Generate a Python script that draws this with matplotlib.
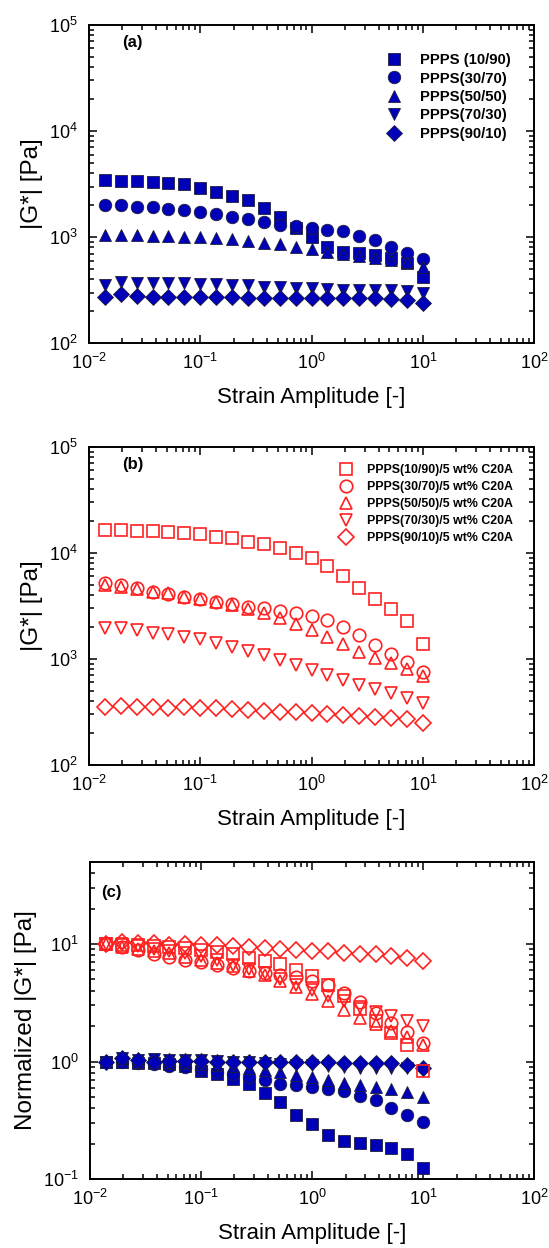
import numpy as np
import matplotlib
matplotlib.use('Agg')
import matplotlib.pyplot as plt

plt.rcParams['font.family'] = ['Liberation Sans', 'DejaVu Sans']
plt.rcParams['mathtext.fontset'] = 'custom'
plt.rcParams['mathtext.rm'] = 'Liberation Sans'

# strain amplitude [-]
strain = [0.0139, 0.0193, 0.0268, 0.0373, 0.0518, 0.0720, 0.100, 0.139, 0.193, 0.268,
          0.373, 0.518, 0.720, 1.00, 1.39, 1.93, 2.68, 3.73, 5.18, 7.20, 10.0]

# (a) neat blends, |G*| [Pa]
g_10_90 = [3460, 3410, 3390, 3340, 3270, 3170, 2890, 2690, 2450, 2240,
           1870, 1560, 1210, 1010, 814, 731, 705, 680, 632, 568, 425]
g_30_70 = [2010, 2010, 1940, 1910, 1850, 1810, 1720, 1640, 1560, 1480,
           1400, 1300, 1280, 1210, 1170, 1130, 1030, 941, 803, 705, 619]
g_50_50 = [1050, 1050, 1050, 1035, 1027, 1011, 997, 977, 955, 928,
           889, 857, 814, 769, 731, 695, 665, 642, 610, 579, 528]
g_70_30 = [355, 381, 368, 370, 368, 368, 363, 359, 355, 350,
           342, 337, 330, 330, 323, 318, 314, 314, 314, 311, 300]
g_90_10 = [272, 292, 279, 272, 275, 275, 275, 272, 272, 269,
           269, 269, 269, 269, 269, 265, 265, 264, 262, 256, 241]

# (b) blends with 5 wt% C20A, |G*| [Pa]
c_10_90 = [16600, 16400, 16200, 16000, 15800, 15500, 14900, 14200, 13700, 12700,
           12000, 11200, 10000, 8860, 7510, 6040, 4620, 3670, 2930, 2280, 1370]
c_30_70 = [5230, 4970, 4630, 4300, 4060, 3860, 3670, 3460, 3290, 3100,
           2990, 2830, 2730, 2530, 2330, 2010, 1680, 1350, 1110, 929, 758]
c_50_50 = [4970, 4730, 4530, 4300, 4150, 3860, 3670, 3460, 3220, 2930,
           2690, 2410, 2130, 1870, 1620, 1370, 1170, 1030, 909, 798, 690]
c_70_30 = [1940, 1940, 1870, 1770, 1700, 1620, 1530, 1420, 1300, 1200,
           1090, 977, 877, 786, 705, 632, 568, 517, 473, 431, 387]
c_90_10 = [350, 362, 355, 355, 342, 350, 342, 342, 337, 330,
           325, 318, 314, 307, 303, 296, 290, 286, 275, 269, 250]

blends = ['PPPS (10/90)', 'PPPS(30/70)', 'PPPS(50/50)', 'PPPS(70/30)', 'PPPS(90/10)']
clay_labels = ['PPPS(10/90)/5 wt% C20A', 'PPPS(30/70)/5 wt% C20A', 'PPPS(50/50)/5 wt% C20A',
               'PPPS(70/30)/5 wt% C20A', 'PPPS(90/10)/5 wt% C20A']
markers = ['s', 'o', '^', 'v', 'D']
neat = [g_10_90, g_30_70, g_50_50, g_70_30, g_90_10]
clay = [c_10_90, c_30_70, c_50_50, c_70_30, c_90_10]

BLUE = '#0000b8'
RED = '#ff2020'
msizes = {'s': 8, 'o': 9, '^': 9, 'v': 9, 'D': 8}


def style_axes(ax, ylim):
    ax.set_xscale('log')
    ax.set_yscale('log')
    ax.set_xlim(1e-2, 1e2)
    ax.set_ylim(*ylim)
    ax.tick_params(which='both', direction='in', top=True, right=True, labelsize=13, width=1.1)
    ax.tick_params(which='major', length=6)
    ax.tick_params(which='minor', length=3.5)
    ax.tick_params(axis='y', pad=8)
    ax.tick_params(axis='x', pad=7)
    for s in ax.spines.values():
        s.set_linewidth(1.4)
    ax.set_xlabel('Strain Amplitude [-]', fontsize=16, labelpad=10)


def plot_neat(ax, data, labels=True):
    for y, m, lab in zip(data, markers, blends):
        ax.plot(strain, y, ls='none', marker=m, ms=msizes[m], mfc=BLUE, mec='#20203a',
                mew=0.6, label=lab if labels else None)


def plot_clay(ax, data, labels=True):
    for y, m, lab in zip(data, markers, clay_labels):
        ax.plot(strain, y, ls='none', marker=m, ms=msizes[m], mfc='none', mec=RED,
                mew=1.2, label=lab if labels else None)


fig = plt.figure(figsize=(5.49, 12.48), dpi=100)
axa = fig.add_axes([0.162, 0.725, 0.811, 0.255])
axb = fig.add_axes([0.162, 0.387, 0.811, 0.255])
axc = fig.add_axes([0.164, 0.0553, 0.809, 0.254])

# (a)
plot_neat(axa, neat)
style_axes(axa, (1e2, 1e5))
axa.set_ylabel('|G*| [Pa]', fontsize=17.5, labelpad=4)
axa.text(0.075, 0.945, '(a)', transform=axa.transAxes, fontsize=12, fontweight='bold', va='center')
axa.legend(loc='upper left', bbox_to_anchor=(0.643, 0.935), frameon=False, borderpad=0,
           handlelength=1.5, handletextpad=1.0, labelspacing=0.3, numpoints=1,
           prop={'weight': 'bold', 'size': 10.7})

# (b)
plot_clay(axb, clay)
style_axes(axb, (1e2, 1e5))
axb.set_ylabel('|G*| [Pa]', fontsize=17.5, labelpad=4)
axb.text(0.075, 0.945, '(b)', transform=axb.transAxes, fontsize=12, fontweight='bold', va='center')
axb.legend(loc='upper left', bbox_to_anchor=(0.543, 0.965), frameon=False, borderpad=0,
           handlelength=1.5, handletextpad=0.95, labelspacing=0.4, numpoints=1,
           prop={'weight': 'bold', 'size': 8.9})

# (c) normalized by first point (clay samples shifted by x10)
norm_neat = [np.array(y) / y[0] for y in neat]
norm_clay = [10 * np.array(y) / y[0] for y in clay]
plot_neat(axc, norm_neat, labels=False)
plot_clay(axc, norm_clay, labels=False)
style_axes(axc, (1e-1, 50))
axc.set_ylabel('Normalized |G*| [Pa]', fontsize=17.5, labelpad=4)
axc.text(0.026, 0.905, '(c)', transform=axc.transAxes, fontsize=12, fontweight='bold', va='center')

fig.savefig('out.png', dpi=100)
